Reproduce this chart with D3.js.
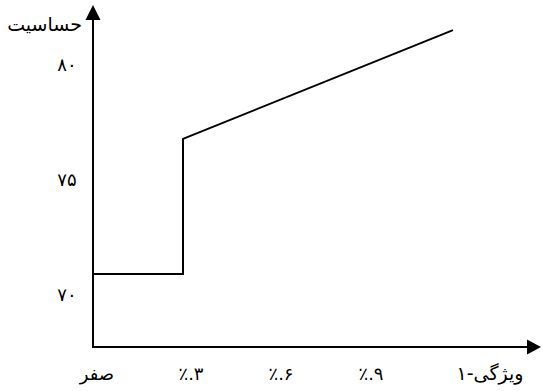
<!DOCTYPE html>
<html>
<head>
<meta charset="utf-8">
<script src="https://cdn.jsdelivr.net/npm/d3@7"></script>
<style>
  body { margin: 0; background: #fff; }
  text { font-family: "DejaVu Sans", sans-serif; fill: #000; }
</style>
</head>
<body>
<div id="chart-container"></div>
<script>
// data
let xValues = [0, 0.3, 0.3, 1.2];
let yValues = [70.93, 70.93, 76.8, 81.53];
let xTicks = [0, 0.3, 0.6, 0.9];
let xTickLabels = ["صفر", "٪.۳", "٪.۶", "٪.۹"];
let yTicks = [70, 75, 80];
let yTickLabels = ["۷۰", "۷۵", "۸۰"];
let xTitle = "ویژگی-۱";
let yTitle = "حساسیت";

let width = 543;
let height = 391;

var svg = d3
  .select("#chart-container")
  .append("svg")
  .attr("width", width)
  .attr("height", height);

let xScale = d3.scaleLinear().domain([0, 1]).range([93, 393]);
let yScale = d3.scaleLinear().domain([70, 80]).range([295.3, 65.3]);

let axisY = 347;

// axes lines
svg.append("line")
  .attr("x1", 92).attr("x2", 530)
  .attr("y1", axisY).attr("y2", axisY)
  .attr("stroke", "black").attr("stroke-width", 2);

svg.append("line")
  .attr("x1", xScale(0)).attr("x2", xScale(0))
  .attr("y1", axisY + 1).attr("y2", 16)
  .attr("stroke", "black").attr("stroke-width", 2);

// arrow heads
svg.append("path")
  .attr("d", "M541," + axisY + " L527," + (axisY - 7.5) + " L527," + (axisY + 7.5) + " Z")
  .attr("fill", "black");

svg.append("path")
  .attr("d", "M" + xScale(0) + ",5 L" + (xScale(0) - 7.5) + ",20 L" + (xScale(0) + 7.5) + ",20 Z")
  .attr("fill", "black");

// the line
let pts = xValues.map((d, i) => [xScale(d), yScale(yValues[i])]);
svg.append("path")
  .datum(pts)
  .attr("d", d3.line())
  .attr("fill", "none")
  .attr("stroke", "black")
  .attr("stroke-width", 2);

// tick labels
svg.append("g")
  .selectAll("text")
  .data(xTicks)
  .enter()
  .append("text")
  .attr("x", (d, i) => xScale(d) + (i == 0 ? 4 : 8))
  .attr("y", 380)
  .attr("text-anchor", "middle")
  .style("font-size", "18px")
  .text((d, i) => xTickLabels[i]);

svg.append("g")
  .selectAll("text")
  .data(yTicks)
  .enter()
  .append("text")
  .attr("x", 67)
  .attr("y", (d) => yScale(d) + 6)
  .attr("text-anchor", "middle")
  .style("font-size", "18px")
  .text((d, i) => yTickLabels[i]);

// titles
svg.append("text")
  .attr("x", 490)
  .attr("y", 380)
  .attr("text-anchor", "middle")
  .style("font-size", "19px")
  .text(xTitle);

svg.append("text")
  .attr("x", 82)
  .attr("y", 31)
  .attr("text-anchor", "end")
  .style("font-size", "19px")
  .text(yTitle);
</script>
</body>
</html>
